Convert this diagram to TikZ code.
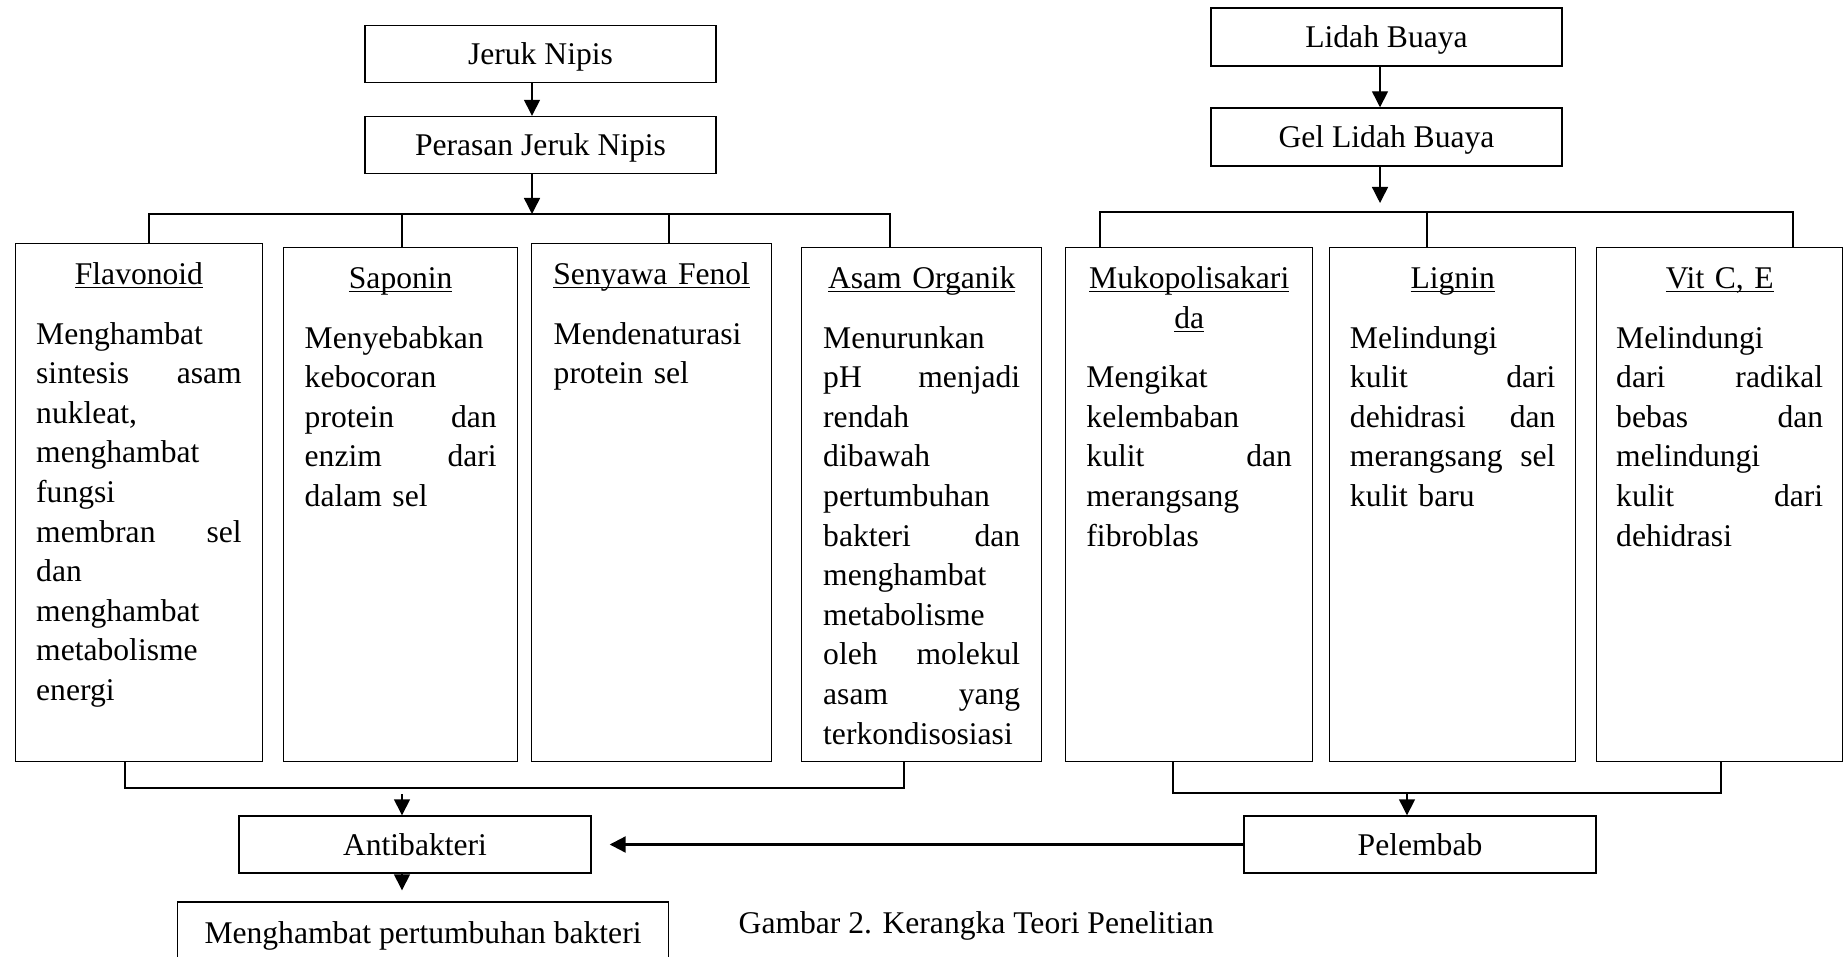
\documentclass[tikz,border=0pt]{standalone}
\usepackage{fontspec}
\setmainfont{Liberation Serif}
\usetikzlibrary{positioning,arrows.meta}
\setlength{\parindent}{0pt}
\newcommand{\judul}[1]{\leavevmode\hbox to\hsize{\hss\strut\underline{\smash{#1}}\hss}}

\begin{document}
\begin{tikzpicture}[x=0.5pt, y=-0.5pt, >={Triangle[length=8pt,width=8pt]}, line width=0.7pt,
    every node/.style={font=\fontsize{15.8pt}{19.8pt}\selectfont},
    kotak/.style={draw, inner sep=0pt, minimum width=175.5pt, minimum height=28.5pt, text height=13pt, text depth=2pt},
    kolom/.style={draw, anchor=north west, inner sep=0pt, minimum height=257pt},
    isi/.style={align=left, inner sep=0pt, outer sep=0pt}]
  \useasboundingbox (0,0) rectangle (1845,957);
  % kerangka teori: jeruk nipis di kiri, lidah buaya di kanan
  \node[kotak] (jeruk) at (540.5,54) {Jeruk Nipis};
  \node[kotak, below=16.3pt of jeruk] (perasan) {Perasan Jeruk Nipis};
  \node[kotak, minimum height=29pt] (lidah) at (1386.5,37) {Lidah Buaya};
  \node[kotak, minimum height=29pt, below=20.3pt of lidah] (gel) {Gel Lidah Buaya};

  \node[kolom, minimum width=123.75pt, minimum height=259pt] (flav) at (14.5,243) {};
  \node[kolom, minimum width=117pt] (sap) at (283,247) {};
  \node[kolom, minimum width=120pt, minimum height=259pt] (sen) at (531,243) {};
  \node[kolom, minimum width=120pt] (asam) at (801,247) {};
  \node[kolom, minimum width=123.5pt] (muko) at (1065,247) {};
  \node[kolom, minimum width=123pt] (lignin) at (1329,247) {};
  \node[kolom, minimum width=123pt] (vit) at (1596,247) {};

  \node[isi, text width=102.75pt, below=6.9pt of flav.north] (flavteks) {\judul{Flavonoid}\\[10pt]
    Menghambat\\ sintesis\hfill asam\\ nukleat,\\ menghambat\\ fungsi\\ membran\hfill sel\\
    dan\\ menghambat\\ metabolisme\\ energi};
  \node[isi, text width=96pt, below=6.9pt of sap.north] (sapteks) {\judul{Saponin}\\[10pt]
    Menyebabkan\\ kebocoran\\ protein\hfill dan\\ enzim\hfill dari\\ dalam sel};
  \node[isi, text width=98pt, below=6.9pt of sen.north] (senteks) {\judul{Senyawa Fenol}\\[10pt]
    Mendenaturasi\\ protein sel};
  \node[isi, text width=98.5pt, below=6.9pt of asam.north] (asamteks) {\judul{Asam Organik}\\[10pt]
    Menurunkan\\ pH\hfill menjadi\\ rendah\\ dibawah\\ pertumbuhan\\ bakteri\hfill dan\\
    menghambat\\ metabolisme\\ oleh\hfill molekul\\ asam\hfill yang\\ terkondisosiasi};
  \node[isi, text width=102.75pt, below=6.9pt of muko.north] (mukoteks) {\judul{Mukopolisakari}\\
    \judul{da}\\[10pt]
    Mengikat\\ kelembaban\\ kulit\hfill dan\\ merangsang\\ fibroblas};
  \node[isi, text width=102.75pt, below=6.9pt of lignin.north] (ligninteks) {\judul{Lignin}\\[10pt]
    Melindungi\\ kulit\hfill dari\\ dehidrasi\hfill dan\\ merangsang\hfill sel\\ kulit baru};
  \node[isi, text width=103.5pt, below=6.9pt of vit.north] (vitteks) {\judul{Vit C, E}\\[10pt]
    Melindungi\\ dari\hfill radikal\\ bebas\hfill dan\\ melindungi\\ kulit\hfill dari\\ dehidrasi};

  \node[kotak, minimum width=176pt] (antibakteri) at (415,844.5) {Antibakteri};
  \node[kotak, minimum width=176pt] (pelembab) at (1420,844.5) {Pelembab};
  \node[kotak, minimum width=245.5pt, minimum height=30pt] (hambat) at (423,932) {Menghambat pertumbuhan bakteri};
  \node[anchor=west, inner sep=0pt] (gambar) at (738,926) {Gambar 2. Kerangka Teori Penelitian};

  \coordinate (a0) at (532,214);
  \coordinate (a1) at (149,214);
  \coordinate (a2) at (402,214);
  \coordinate (a3) at (669,214);
  \coordinate (a4) at (890,214);
  \coordinate (b0) at (1380,212);
  \coordinate (b1) at (1100,212);
  \coordinate (b2) at (1427,212);
  \coordinate (b3) at (1793,212);
  \coordinate (c0) at (402,794);
  \coordinate (c1) at (125,788);
  \coordinate (c2) at (904,788);
  \coordinate (d0) at (1407,793);
  \coordinate (d1) at (1173,793);
  \coordinate (d2) at (1721,793);

  \draw[->] ([xshift=-4.25pt]jeruk.south) -- ([xshift=-4.25pt]perasan.north);
  \draw[->] (perasan.south -| a0) -- (a0);
  \draw (a1 |- flav.north) -- (a1) -- (a4) -- (a4 |- asam.north);
  \draw (a2) -- (a2 |- sap.north);
  \draw (a3) -- (a3 |- sen.north);

  \draw[->] ([xshift=-3.25pt]lidah.south) -- ([xshift=-3.25pt]gel.north);
  \draw[->, shorten >=4.5pt] (gel.south -| b0) -- (b0);
  \draw (b1 |- muko.north) -- (b1) -- (b3) -- (b3 |- vit.north);
  \draw (b2) -- (b2 |- lignin.north);

  \draw (c1 |- flav.south) -- (c1) -- (c2) -- (c2 |- asam.south);
  \draw[->] (c0) -- (c0 |- antibakteri.north);
  \draw[->, shorten >=5.5pt] (antibakteri.south -| c0) -- (hambat.north -| c0);
  \draw (d1 |- muko.south) -- (d1) -- (d2) -- (d2 |- vit.south);
  \draw[->] (d0) -- (d0 |- pelembab.north);
  \draw[->, line width=1.1pt, shorten >=9pt] (pelembab.west) -- (pelembab.west -| antibakteri.east);
\end{tikzpicture}
\end{document}
